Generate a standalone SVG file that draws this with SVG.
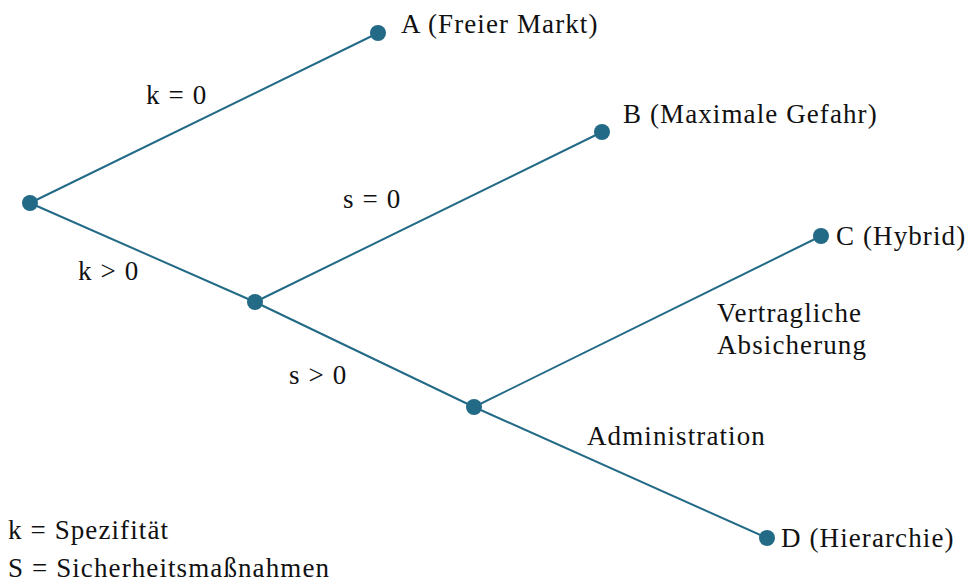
<svg xmlns="http://www.w3.org/2000/svg" width="969" height="581" viewBox="0 0 969 581">
<style>
.e{stroke:#236a87;stroke-width:2;fill:none}
.n{fill:#236a87}
text{font-family:"Liberation Serif","Times New Roman",serif;font-size:27px;letter-spacing:1.1px;fill:#111}
</style>
<rect width="969" height="581" fill="#fff"/>
<g id="connectors">
<line class="e" x1="30" y1="203" x2="378" y2="33"/>
<line class="e" x1="30" y1="203" x2="255" y2="302"/>
<line class="e" x1="255" y1="302" x2="602" y2="132"/>
<line class="e" x1="255" y1="302" x2="474" y2="407"/>
<line class="e" x1="474" y1="407" x2="821" y2="236"/>
<line class="e" x1="474" y1="407" x2="767" y2="538"/>
</g>
<g id="root"><circle class="n" cx="30" cy="203" r="8"/></g>
<g id="n1"><circle class="n" cx="255" cy="302" r="8"/></g>
<g id="n2"><circle class="n" cx="474" cy="407" r="8"/></g>
<g id="A"><circle class="n" cx="378" cy="33" r="8"/><text x="401" y="33">A (Freier Markt)</text></g>
<g id="B"><circle class="n" cx="602" cy="132" r="8"/><text x="623" y="123">B (Maximale Gefahr)</text></g>
<g id="C"><circle class="n" cx="821" cy="236" r="8"/><text x="836" y="245">C (Hybrid)</text></g>
<g id="D"><circle class="n" cx="767" cy="538" r="8"/><text x="781" y="547">D (Hierarchie)</text></g>
<g id="labels">
<text x="146" y="104">k = 0</text>
<text x="343" y="208">s = 0</text>
<text x="78" y="280">k &gt; 0</text>
<text x="289" y="384">s &gt; 0</text>
<text x="717" y="322">Vertragliche</text>
<text x="717" y="354">Absicherung</text>
<text x="587" y="445">Administration</text>
<text x="8" y="539">k = Spezifität</text>
<text x="8" y="577">S = Sicherheitsmaßnahmen</text>
</g>
</svg>
